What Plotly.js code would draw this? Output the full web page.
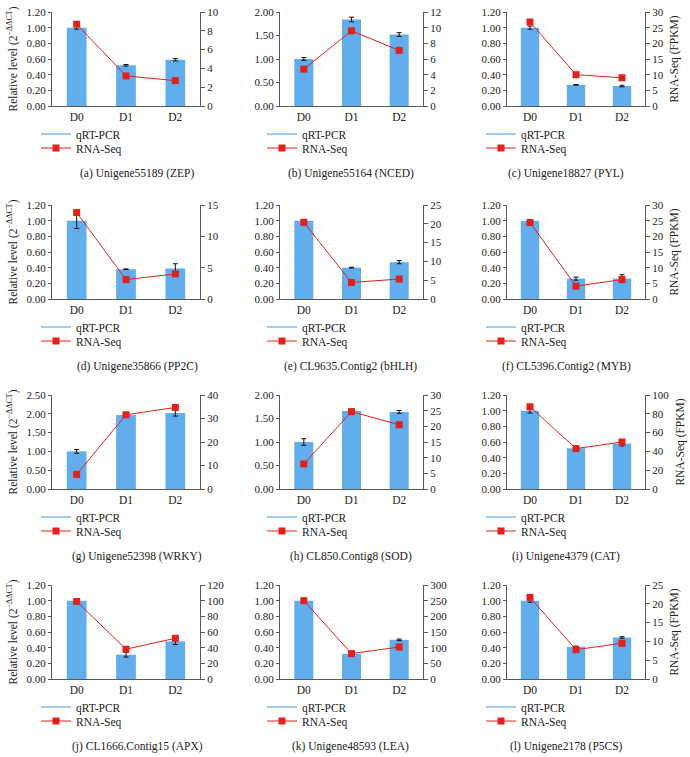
<!DOCTYPE html>
<html>
<head>
<meta charset="utf-8">
<script src="https://cdn.plot.ly/plotly-3.0.1.min.js"></script>
<style>
  html, body { margin: 0; padding: 0; background: #fff; }
  #chart { width: 690px; height: 757px; }
</style>
</head>
<body>
<div id="chart"></div>
<script>
// sampling days
const days = ['D0', 'D1', 'D2'];

// panel captions
const captions = [
    '(a) Unigene55189 (ZEP)', '(b) Unigene55164 (NCED)', '(c) Unigene18827 (PYL)',
    '(d) Unigene35866 (PP2C)', '(e) CL9635.Contig2 (bHLH)', '(f) CL5396.Contig2 (MYB)',
    '(g) Unigene52398 (WRKY)', '(h) CL850.Contig8 (SOD)', '(i) Unigene4379 (CAT)',
    '(j) CL1666.Contig15 (APX)', '(k) Unigene48593 (LEA)', '(l) Unigene2178 (P5CS)'
];

// qRT-PCR relative level (bars) and its error
const qpcrMean = [
    [1.00, 0.52, 0.59], [1.00, 1.84, 1.52], [1.00, 0.27, 0.255],
    [1.00, 0.38, 0.39], [1.00, 0.40, 0.47], [1.00, 0.26, 0.26],
    [1.00, 1.97, 2.02], [1.00, 1.66, 1.64], [1.00, 0.52, 0.58],
    [1.00, 0.31, 0.48], [1.00, 0.32, 0.50], [1.00, 0.41, 0.53]
];
const qpcrErr = [
    [0.02, 0.01, 0.015], [0.03, 0.05, 0.04], [0.02, 0.005, 0.01],
    [0.10, 0.005, 0.06], [0.01, 0.005, 0.02], [0.015, 0.02, 0.05],
    [0.05, 0.05, 0.08], [0.07, 0.01, 0.03], [0.03, 0.005, 0.03],
    [0.02, 0.03, 0.04], [0.005, 0.005, 0.01], [0.02, 0.01, 0.01]
];

// RNA-Seq FPKM (red line)
const rnaSeq = [
    [8.7, 3.2, 2.7], [4.7, 9.6, 7.1], [26.8, 10.0, 9.0],
    [13.8, 3.1, 4.0], [20.4, 4.4, 5.3], [24.4, 4.1, 6.2],
    [6.2, 31.6, 34.7], [8.0, 24.7, 20.5], [87.5, 43.0, 50.0],
    [99, 38, 52], [250, 81, 102], [21.7, 7.8, 9.5]
];

// axis ranges
const leftMax  = [1.2, 2.0, 1.2, 1.2, 1.2, 1.2, 2.5, 2.0, 1.2, 1.2, 1.2, 1.2];
const leftStep = [0.2, 0.5, 0.2, 0.2, 0.2, 0.2, 0.5, 0.5, 0.2, 0.2, 0.2, 0.2];
const rightMax  = [10, 12, 30, 15, 25, 30, 40, 30, 100, 120, 300, 25];
const rightStep = [2, 2, 5, 5, 5, 5, 10, 5, 20, 20, 50, 5];

const W = 690, H = 757;
const colLeft = [52, 280, 507], colRight = [200, 423, 645];
const rowTop = [12, 205, 395, 585], rowBottom = [106, 299, 489, 679];
const legendX = [36, 262, 481];
const captionX = [137, 351, 566];

const serif = 'Liberation Serif, Times New Roman, serif';
const barColor = '#62AEEC';
const red = '#E3201B';
const axisColor = '#595959';

function px(x){ return x / W }
function py(y){ return 1 - y / H }

let data = [];
let layout = {
    width: W, height: H,
    margin: {l: 0, r: 0, t: 0, b: 0},
    paper_bgcolor: '#fff', plot_bgcolor: 'rgba(0,0,0,0)',
    font: {family: serif, size: 11, color: '#222'},
    barmode: 'group',
    bargap: 0.6,
    annotations: []
};

function legendName(k){ return k === 1 ? 'legend' : 'legend' + k }

for (let i = 0; i < 12; i++){
    const r = Math.floor(i / 3), c = i % 3;
    const xs = i === 0 ? '' : String(i + 1);
    const yl = 2 * i + 1, yr = 2 * i + 2;
    const ylName = yl === 1 ? '' : String(yl);
    const lgA = legendName(2 * i + 1), lgB = legendName(2 * i + 2);

    layout['xaxis' + xs] = {
        domain: [px(colLeft[c]), px(colRight[c])],
        anchor: 'y' + ylName,
        type: 'category',
        showline: true, linecolor: axisColor, linewidth: 1,
        ticks: '', showgrid: false, zeroline: false,
        tickfont: {family: serif, size: 11.5, color: '#222'},
        fixedrange: true
    };
    const left = {
        domain: [py(rowBottom[r]), py(rowTop[r])],
        anchor: 'x' + xs,
        range: [0, leftMax[i]], dtick: leftStep[i], tick0: 0,
        tickformat: '.2f',
        showline: true, linecolor: axisColor, linewidth: 1,
        ticks: 'outside', ticklen: 3, tickcolor: axisColor,
        showgrid: false, zeroline: false,
        tickfont: {family: serif, size: 11, color: '#222'},
        fixedrange: true
    };
    if (c === 0) left.title = {text: 'Relative level (2<sup>−ΔΔCT</sup>)', standoff: 6,
                               font: {family: serif, size: 11.5, color: '#222'}};
    layout['yaxis' + ylName] = left;

    const right = {
        domain: [py(rowBottom[r]), py(rowTop[r])],
        anchor: 'x' + xs,
        overlaying: 'y' + ylName,
        side: 'right',
        range: [0, rightMax[i]], dtick: rightStep[i], tick0: 0,
        showline: true, linecolor: axisColor, linewidth: 1,
        ticks: 'outside', ticklen: 4, tickcolor: axisColor,
        showgrid: false, zeroline: false,
        tickfont: {family: serif, size: 11, color: '#222'},
        fixedrange: true
    };
    if (c === 2) right.title = {text: 'RNA-Seq (FPKM)', standoff: 7,
                                font: {family: serif, size: 11.5, color: '#222'}};
    layout['yaxis' + yr] = right;

    // bars with error bars
    data.push({
        type: 'bar', x: days, y: qpcrMean[i],
        xaxis: 'x' + xs, yaxis: 'y' + ylName,
        marker: {color: barColor},
        error_y: {type: 'data', array: qpcrErr[i], visible: true,
                  color: '#111', thickness: 1, width: 2.5},
        showlegend: false
    });
    // legend entry for the bars (drawn as a line, like the original)
    data.push({
        type: 'scatter', mode: 'lines', x: [null], y: [null],
        xaxis: 'x' + xs, yaxis: 'y' + ylName,
        name: 'qRT-PCR', legend: lgA,
        line: {color: '#7DBDEE', width: 1.5}
    });
    // RNA-Seq line
    data.push({
        type: 'scatter', mode: 'lines+markers', x: days, y: rnaSeq[i],
        xaxis: 'x' + xs, yaxis: 'y' + yr,
        name: 'RNA-Seq', legend: lgB,
        line: {color: red, width: 1},
        marker: {symbol: 'square', size: 7, color: red}
    });

    const legendBase = {
        xanchor: 'left', yanchor: 'middle',
        bgcolor: 'rgba(0,0,0,0)', borderwidth: 0,
        font: {family: serif, size: 11.5, color: '#222'}
    };
    layout[lgA] = Object.assign({x: px(legendX[c]), y: py(rowTop[r] + 122)}, legendBase);
    layout[lgB] = Object.assign({x: px(legendX[c]), y: py(rowTop[r] + 136)}, legendBase);

    layout.annotations.push({
        xref: 'paper', yref: 'paper',
        x: px(captionX[c]), y: py(rowTop[r] + 161),
        xanchor: 'center', yanchor: 'middle',
        text: captions[i], showarrow: false,
        font: {family: serif, size: 11.5, color: '#222'}
    });
}

Plotly.newPlot('chart', data, layout, {displayModeBar: false, staticPlot: true});
</script>
</body>
</html>
